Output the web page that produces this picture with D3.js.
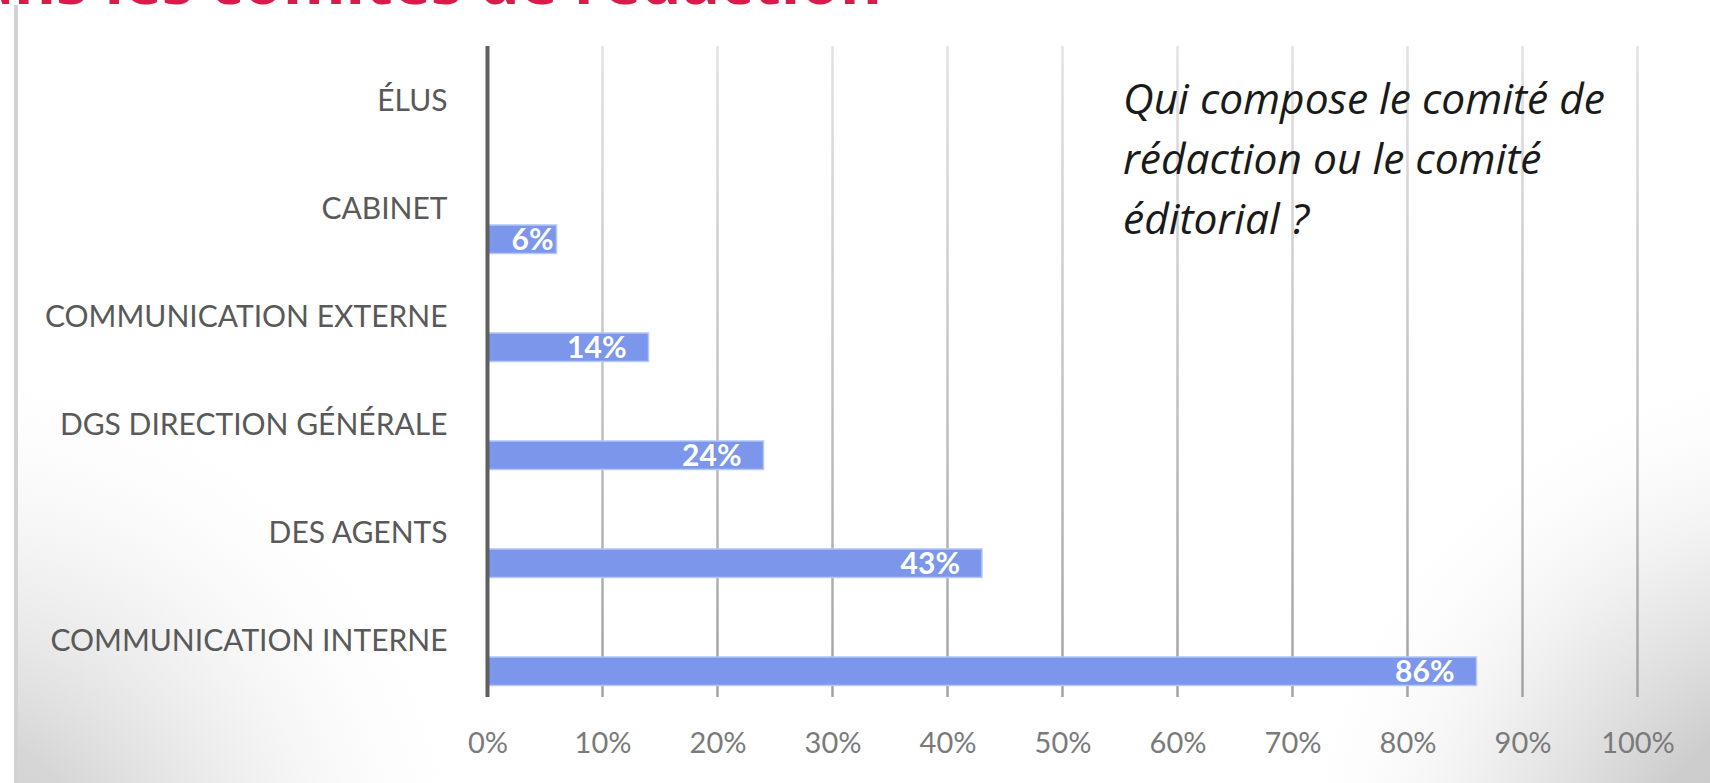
<!DOCTYPE html>
<html><head><meta charset="utf-8">
<script src="https://cdn.jsdelivr.net/npm/d3@7/dist/d3.min.js"></script>
<style>html,body{margin:0;padding:0;background:#fff;overflow:hidden}</style>
</head><body>
<svg id="chart" width="1710" height="783"></svg>
<script>
const categories = ["ÉLUS","CABINET","COMMUNICATION EXTERNE","DGS DIRECTION GÉNÉRALE","DES AGENTS","COMMUNICATION INTERNE"];
const values = [0, 0.06, 0.14, 0.24, 0.43, 0.86];
const tickValues = [0,0.1,0.2,0.3,0.4,0.5,0.6,0.7,0.8,0.9,1.0];
const tickLabels = ["0%","10%","20%","30%","40%","50%","60%","70%","80%","90%","100%"];
const questionLines = ["Qui compose le comité de","rédaction ou le comité","éditorial ?"];
const slideTitle = "dans les comités de rédaction";

const W = 1710, H = 783;
const svg = d3.select("#chart");
const defs = svg.append("defs");

// background: white with grey shading in the bottom corners
function corner(id, cx, cy, r, stops){
  const g = defs.append("radialGradient").attr("id",id).attr("gradientUnits","userSpaceOnUse")
    .attr("cx",cx).attr("cy",cy).attr("r",r);
  stops.forEach(s=>g.append("stop").attr("offset",s[0]).attr("stop-color",s[1]).attr("stop-opacity",s[2]));
}
corner("bgR", 1830, 900, 560, [[0,"#c4c4c4",1],[0.35,"#cdcdcd",1],[0.62,"#e6e6e6",0.8],[1,"#ffffff",0]]);
corner("bgL", -60, 900, 560, [[0,"#cacaca",1],[0.3,"#d6d6d6",1],[0.62,"#ececec",0.7],[1,"#ffffff",0]]);
svg.append("rect").attr("x",0).attr("y",0).attr("width",W).attr("height",H).attr("fill","#fff");
svg.append("rect").attr("x",16).attr("y",5).attr("width",W-16).attr("height",H-5).attr("fill","url(#bgR)");
svg.append("rect").attr("x",16).attr("y",5).attr("width",W-16).attr("height",H-5).attr("fill","url(#bgL)");
svg.append("rect").attr("x",14).attr("y",5).attr("width",4).attr("height",H-5).attr("fill","#d2d2d2");

// red slide title, clipped at top
svg.append("text").attr("x",882).attr("y",4).attr("text-anchor","end")
  .attr("font-family","'Open Sans', sans-serif").attr("font-weight","700").attr("font-size",64)
  .attr("fill","#d81b4a").text(slideTitle);

const x = d3.scaleLinear().domain([0,1]).range([487.5,1637.5]);
const y = d3.scaleBand().domain(categories).range([46,694]).padding(0);
const bw = y.bandwidth();
const gridTop = 46, gridBottom = 697;

const lg = defs.append("linearGradient").attr("id","grid").attr("gradientUnits","userSpaceOnUse")
  .attr("x1",0).attr("y1",gridTop).attr("x2",0).attr("y2",gridBottom);
lg.append("stop").attr("offset","0").attr("stop-color","#e2e2e2");
lg.append("stop").attr("offset","0.5").attr("stop-color","#c4c4c4");
lg.append("stop").attr("offset","1").attr("stop-color","#a2a2a2");

// gridlines
svg.append("g").selectAll("line").data(tickValues.filter(d=>d>0)).join("line")
  .attr("x1",d=>x(d)).attr("x2",d=>x(d)).attr("y1",gridTop).attr("y2",gridBottom)
  .attr("stroke","url(#grid)").attr("stroke-width",2.5);

// x axis tick labels
const xAxis = d3.axisBottom(x).tickValues(tickValues).tickFormat((d,i)=>tickLabels[i]).tickSize(0).tickPadding(0);
const gx = svg.append("g").attr("transform",`translate(0,${753})`).call(xAxis);
gx.select(".domain").remove();
gx.selectAll("text").attr("font-family","Lato, sans-serif").attr("font-size",29)
  .attr("fill","#7a7a7a").attr("dy",0);

// bars
const bars = svg.append("g");
bars.selectAll("rect").data(categories.map((c,i)=>({c,v:values[i]}))).join("rect")
  .attr("x",x(0)).attr("y",d=>y(d.c)+bw*0.657).attr("width",d=>x(d.v)-x(0))
  .attr("height",bw*0.264).attr("fill","#7b96ea")
  .attr("stroke",d=>d.v>0?"#b4c8f8":"none").attr("stroke-width",1.5);

// y axis line
svg.append("line").attr("x1",x(0)).attr("x2",x(0)).attr("y1",gridTop).attr("y2",gridBottom)
  .attr("stroke","#5f5f5f").attr("stroke-width",4);

// category labels
const yAxis = d3.axisLeft(y).tickSize(0).tickPadding(40);
const gy = svg.append("g").attr("transform",`translate(${x(0)},0)`).call(yAxis);
gy.select(".domain").remove();
gy.selectAll("text").attr("font-family","Lato, sans-serif").attr("font-size",30)
  .attr("fill","#595959").attr("dy","0.36em");

// value labels
const vl = svg.append("g");
categories.forEach((c,i)=>{
  if(values[i]<=0) return;
  const t = vl.append("text").attr("font-family","Lato, sans-serif").attr("font-weight","700")
    .attr("font-size",30).attr("fill","#ffffff").attr("text-anchor","end")
    .attr("y",y(c)+bw*0.657+bw*0.132+11).text(d3.format(".0%")(values[i]));
  const w = t.node().getComputedTextLength();
  t.attr("x",Math.max(x(values[i])-22, x(0)+w+24));
});

// question text
const q = svg.append("text").attr("font-family","'Open Sans', sans-serif").attr("font-style","italic")
  .attr("font-size",42.5).attr("fill","#1a1a1a");
questionLines.forEach((l,i)=>q.append("tspan").attr("x",1123).attr("y",114+i*60).text(l));
</script>
</body></html>
